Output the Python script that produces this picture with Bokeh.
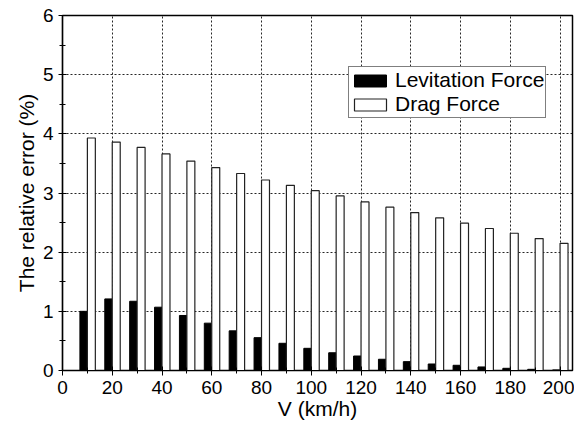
from bokeh.plotting import figure
from bokeh.models import ColumnDataSource, Legend, LegendItem, FixedTicker, Range1d
from bokeh.transform import dodge
from bokeh.embed import file_html
from bokeh.resources import INLINE

speed = [10, 20, 30, 40, 50, 60, 70, 80, 90, 100,
         110, 120, 130, 140, 150, 160, 170, 180, 190, 200]
levitation = [1.00, 1.21, 1.17, 1.07, 0.93, 0.80, 0.67, 0.555, 0.46, 0.375,
              0.30, 0.245, 0.19, 0.15, 0.11, 0.088, 0.06, 0.037, 0.02, 0.01]
drag = [3.93, 3.86, 3.77, 3.66, 3.54, 3.43, 3.33, 3.22, 3.13, 3.04,
        2.95, 2.85, 2.76, 2.67, 2.58, 2.49, 2.40, 2.32, 2.23, 2.15]
x_ticks = [0, 20, 40, 60, 80, 100, 120, 140, 160, 180, 200]
y_ticks = [0, 1, 2, 3, 4, 5, 6]

src = ColumnDataSource(dict(v=speed, lev=levitation, drag=drag))

FONT = "Liberation Sans"

p = figure(width=574, height=424, x_range=Range1d(0, 205), y_range=Range1d(0, 6),
           output_backend="svg", toolbar_location=None,
           min_border_left=62, min_border_right=2, min_border_top=15, min_border_bottom=54)

r_lev = p.vbar(x=dodge('v', -1.5, range=p.x_range), top='lev', width=3, bottom=0,
               source=src, fill_color="black", line_color="black", line_width=1)
r_drag = p.vbar(x=dodge('v', 1.6, range=p.x_range), top='drag', width=3.2, bottom=0,
                source=src, fill_color="white", line_color="#222222", line_width=1.2)

p.background_fill_color = "white"
p.border_fill_color = "white"
p.outline_line_color = "black"
p.outline_line_width = 1.5

for ax in (p.xaxis[0], p.yaxis[0]):
    ax.axis_line_color = "black"
    ax.axis_line_width = 1.2
    ax.major_tick_line_color = "black"
    ax.minor_tick_line_color = "black"
    ax.major_tick_in = 4
    ax.minor_tick_in = 3
    ax.major_label_text_font = FONT
    ax.major_label_text_font_size = "19px"
    ax.major_label_text_color = "black"
    ax.axis_label_text_font = FONT
    ax.axis_label_text_font_size = "21px"
    ax.axis_label_text_font_style = "normal"
    ax.axis_label_text_color = "black"

p.xaxis.ticker = FixedTicker(ticks=x_ticks, minor_ticks=[s for s in range(10, 205, 20)])
p.yaxis.ticker = FixedTicker(ticks=y_ticks, minor_ticks=[0.5, 1.5, 2.5, 3.5, 4.5, 5.5])
p.xaxis.major_tick_out = 5
p.xaxis.minor_tick_out = 3
p.yaxis.major_tick_out = 4
p.yaxis.minor_tick_out = 3
p.xaxis.major_label_standoff = 5
p.yaxis.major_label_standoff = 5
p.xaxis.axis_label = "V (km/h)"
p.yaxis.axis_label = "The relative error (%)"
p.xaxis.axis_label_standoff = 0
p.yaxis.axis_label_standoff = 2

for g in (p.xgrid[0], p.ygrid[0]):
    g.grid_line_color = "black"
    g.grid_line_dash = "2 2"
    g.grid_line_width = 1
    g.grid_line_alpha = 0.85
p.xgrid.ticker = FixedTicker(ticks=x_ticks)
p.ygrid.ticker = FixedTicker(ticks=y_ticks)

legend = Legend(items=[LegendItem(label="Levitation Force", renderers=[r_lev]),
                       LegendItem(label="Drag Force", renderers=[r_drag])],
                location=(286, 252))
legend.label_text_font = FONT
legend.label_text_font_size = "21px"
legend.label_text_color = "black"
legend.glyph_width = 40
legend.glyph_height = 15
legend.label_standoff = 5
legend.padding = 1
legend.spacing = 0
legend.margin = 0
legend.border_line_color = "black"
legend.border_line_width = 1
legend.background_fill_color = "white"
legend.background_fill_alpha = 1
p.add_layout(legend)

open("out.html", "w").write(file_html(p, INLINE))
